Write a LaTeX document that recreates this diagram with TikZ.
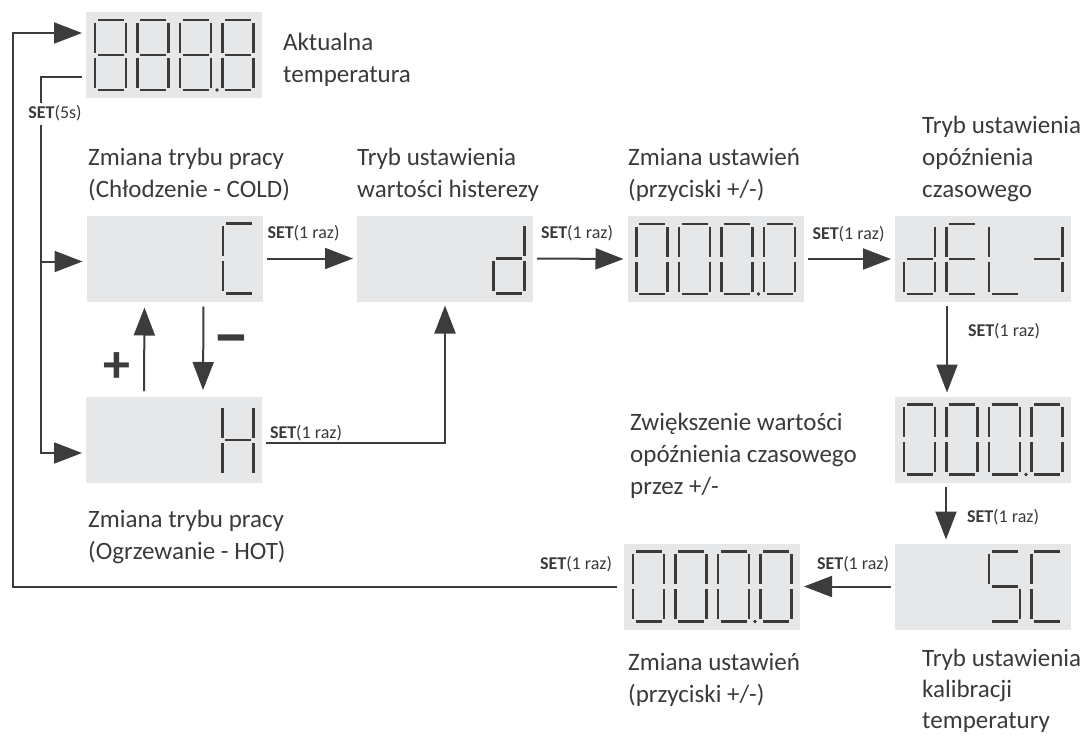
\documentclass[tikz,border=0pt]{standalone}
\usepackage{fontspec}
\setmainfont{Carlito}
\usetikzlibrary{arrows.meta,calc}
\definecolor{boxgray}{HTML}{E6E7E8}
\definecolor{linegray}{HTML}{3C3C3C}
\definecolor{txtgray}{HTML}{3A3A3A}
\definecolor{seggray}{HTML}{3A3A3A}
\tikzset{
  disp/.style={fill=boxgray, minimum width=176pt, minimum height=86pt, inner sep=0pt, outer sep=0pt},
  segline/.style={draw=seggray, line width=2.6pt},
  seg a/.style={insert path={(2.5,0)--(28.5,0)}},
  seg b/.style={insert path={(31,2.5)--(31,32.5)}},
  seg c/.style={insert path={(31,37.5)--(31,67.5)}},
  seg d/.style={insert path={(2.5,70)--(28.5,70)}},
  seg e/.style={insert path={(0,37.5)--(0,67.5)}},
  seg f/.style={insert path={(0,2.5)--(0,32.5)}},
  seg g/.style={insert path={(2.5,35)--(28.5,35)}},
  pics/sevenseg/.style={code={\foreach \s in {#1}{\path[segline, seg \s];}}},
  conn/.style={draw=linegray, line width=2pt, shorten <=4pt, shorten >=4pt},
  tip/.style={-{Triangle[length=28pt,width=21pt]}},
  desc/.style={font=\fontsize{25}{32}\selectfont, text=txtgray, align=left, inner sep=0pt, anchor=base west},
  lab/.style={font=\fontsize{18}{20}\selectfont, text=txtgray, inner sep=0pt},
  sign/.style={font=\fontsize{54}{54}\selectfont\bfseries, text=linegray, inner sep=0pt},
}
\newcommand{\digitat}[3]{\pic at ($(#1.north west)+(#2,8)$) {sevenseg={#3}};}
\newcommand{\dpointat}[1]{\fill[seggray] ($(#1.north west)+(131,78)$) circle (1.8);}
\newcommand{\zerosat}[1]{%
  \digitat{#1}{9}{a,b,c,d,e,f}\digitat{#1}{51.5}{a,b,c,d,e,f}%
  \digitat{#1}{94}{a,b,c,d,e,f}\digitat{#1}{136.5}{a,b,c,d,e,f}\dpointat{#1}}
\begin{document}
\begin{tikzpicture}[x=1pt,y=-1pt]
\useasboundingbox (0,0) rectangle (1087,736);
% displays
\node[disp] (top)  at (174,55) {};
\node[disp] (cold) at (174.5,258.5) {};
\node[disp] (hist) at (445,258.5) {};
\node[disp] (set1) at (715.5,259) {};
\node[disp] (del)  at (983,259) {};
\node[disp] (delv) at (983,439.5) {};
\node[disp] (sc)   at (983,586.5) {};
\node[disp] (cal)  at (712,586.5) {};
\node[disp] (hot)  at (174,440) {};
% digits
\digitat{top}{9}{a,b,c,d,e,f,g}\digitat{top}{51.5}{a,b,c,d,e,f,g}
\digitat{top}{94}{a,b,c,d,e,f,g}\digitat{top}{136.5}{a,b,c,d,e,f,g}\dpointat{top}
\digitat{cold}{136.5}{a,d,e,f}
\digitat{hist}{136.5}{b,c,d,e,g}
\zerosat{set1}
\digitat{del}{9}{b,c,d,e,g}\digitat{del}{51.5}{a,d,e,f,g}
\digitat{del}{94}{d,e,f}\digitat{del}{136.5}{b,c,g}
\zerosat{delv}
\digitat{sc}{94}{a,f,g,c,d}\digitat{sc}{136.5}{a,d,e,f}
\zerosat{cal}
\digitat{hot}{136.5}{b,c,e,f,g}
% texts (anchor = baseline of the last line)
\node[desc] (t1) at (283,82) {Aktualna\\temperatura};
\node[desc] (t2) at (88,197) {Zmiana trybu pracy\\(Chłodzenie - COLD)};
\node[desc] (t3) at (357,197) {Tryb ustawienia\\wartości histerezy};
\node[desc] (t4) at (628,197) {Zmiana ustawień\\(przyciski +/-)};
\node[desc] (t5) at (922,197) {Tryb ustawienia\\opóźnienia\\czasowego};
\node[desc] (t6) at (630,494) {Zwiększenie wartości\\opóźnienia czasowego\\przez +/-};
\node[desc] (t7) at (88,559) {Zmiana trybu pracy\\(Ogrzewanie - HOT)};
\node[desc] (t8) at (628,702) {Zmiana ustawień\\(przyciski +/-)};
\node[desc, font=\fontsize{25}{31}\selectfont] (t9) at (922,728) {Tryb ustawienia\\kalibracji\\temperatury};
\node[sign] (plus) at (117,368) {+};
\node[sign, font=\fontsize{68}{68}\selectfont\bfseries] (minus) at (231,347) {−};
% helper coordinates
\coordinate (L) at (13,0);
\coordinate (M) at (41,0);
\node[lab, anchor=base] (set5) at (55,118) {\textbf{SET}(5s)};
% connectors
\draw[conn, tip, shorten <=7pt] (cal.west)
  node[lab, anchor=base east, xshift=-11pt, yshift=17pt] {\textbf{SET}(1 raz)}
  -- (cal.west -| L) |- ($(top.west)+(0,-22)$);
\draw[conn, shorten >=1.5pt] ($(top.west)+(0,22)$) -| (set5.north -| M);
\draw[conn, tip] (set5.south -| M) |- ($(hot.west)+(0,13)$);
\draw[conn, tip, shorten <=0pt] ($(cold.west -| M)+(0,3)$) -- ($(cold.west)+(0,3)$);
\draw[conn, tip] (cold.east)
  node[lab, anchor=base west, xshift=4pt, yshift=20pt] {\textbf{SET}(1 raz)} -- (hist.west);
\draw[conn, tip] (hist.east)
  node[lab, anchor=base west, xshift=7pt, yshift=20pt] {\textbf{SET}(1 raz)} -- (set1.west);
\draw[conn, tip] (set1.east)
  node[lab, anchor=base west, xshift=8pt, yshift=20pt] {\textbf{SET}(1 raz)} -- (del.west);
\draw[conn, tip] ($(del.south west)+(52,0)$)
  node[lab, anchor=base west, xshift=20pt, yshift=-34pt] {\textbf{SET}(1 raz)}
  -- ($(delv.north west)+(52,0)$);
\draw[conn, tip] ($(delv.south west)+(51,0)$)
  node[lab, anchor=base west, xshift=20pt, yshift=-40pt] {\textbf{SET}(1 raz)}
  -- ($(sc.north west)+(51,0)$);
\draw[conn, tip] (sc.west)
  node[lab, anchor=base east, xshift=-5pt, yshift=17pt] {\textbf{SET}(1 raz)} -- (cal.east);
\draw[conn, tip] ($(hot.east)+(0,3)$)
  node[lab, anchor=base west, xshift=7pt, yshift=5pt] {\textbf{SET}(1 raz)} -| (hist.south);
\draw[conn, tip, shorten <=6pt, shorten >=6pt] ($(hot.north)+(-30,0)$) -- ($(cold.south)+(-30,0)$);
\draw[conn, tip, shorten <=5pt, shorten >=7pt] ($(cold.south)+(29,0)$) -- ($(hot.north)+(29,0)$);
\end{tikzpicture}
\end{document}
